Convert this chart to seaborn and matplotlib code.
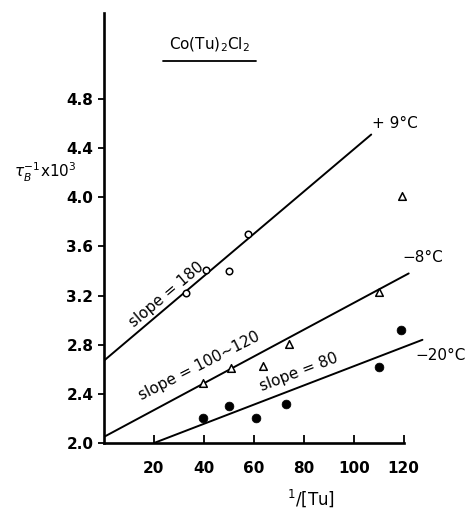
import matplotlib
matplotlib.use('Agg')
import matplotlib.pyplot as plt
import seaborn as sns

# data
x_p9 = [33, 41, 50, 57.5]
y_p9 = [3.22, 3.41, 3.40, 3.70]

x_m8 = [39.5, 51, 63.5, 74, 110, 119.5]
y_m8 = [2.49, 2.61, 2.63, 2.81, 3.23, 4.01]

x_m20 = [39.5, 50, 61, 73, 110, 119]
y_m20 = [2.20, 2.30, 2.20, 2.32, 2.62, 2.92]

# fitted line end points
fit_p9_x = [0, 107]
fit_p9_y = [2.67, 4.51]
fit_m8_x = [0, 122]
fit_m8_y = [2.05, 3.38]
fit_m20_x = [20, 127.5]
fit_m20_y = [2.00, 2.84]

x_ticks = [20, 40, 60, 80, 100, 120]
y_ticks = [2.0, 2.4, 2.8, 3.2, 3.6, 4.0, 4.4, 4.8]

sns.set_style("ticks")
plt.rcParams['font.family'] = ['DejaVu Sans']
plt.rcParams['text.color'] = 'black'
plt.rcParams['xtick.color'] = 'black'
plt.rcParams['ytick.color'] = 'black'
plt.rcParams['axes.edgecolor'] = 'black'

fig = plt.figure(figsize=(4.68, 5.14), dpi=100)
ax = fig.add_axes([0.222, 0.138, 0.694, 0.837])

for fx, fy in [(fit_p9_x, fit_p9_y), (fit_m8_x, fit_m8_y), (fit_m20_x, fit_m20_y)]:
    sns.lineplot(x=fx, y=fy, ax=ax, color='black', lw=1.4)

sns.scatterplot(x=x_p9, y=y_p9, ax=ax, marker='o', s=22, facecolor='white',
                edgecolor='black', linewidth=1.1, zorder=3)
sns.scatterplot(x=x_m8, y=y_m8, ax=ax, marker='^', s=30, facecolor='white',
                edgecolor='black', linewidth=1.1, zorder=3)
sns.scatterplot(x=x_m20, y=y_m20, ax=ax, marker='o', s=40, color='black',
                edgecolor='black', zorder=3)

ax.set_xlim(0, 130)
ax.set_ylim(2.0, 5.5)
ax.set_xticks(x_ticks)
ax.set_yticks(y_ticks)
ax.set_yticklabels([f"{v:.1f}" for v in y_ticks])
ax.tick_params(axis='x', direction='in', length=6, width=1.3, labelsize=11, pad=13)
ax.tick_params(axis='y', direction='out', length=4, width=1.3, labelsize=11)
for lab in ax.get_xticklabels() + ax.get_yticklabels():
    lab.set_fontweight('bold')
ax.spines['right'].set_visible(False)
ax.spines['top'].set_visible(False)
ax.spines['left'].set_linewidth(1.9)
ax.spines['bottom'].set_linewidth(1.9)
ax.spines['bottom'].set_bounds(0, 120)

# line labels
ax.text(107.5, 4.6, "+ 9°C", fontsize=11, ha='left', va='center')
ax.text(119.5, 3.51, "\u22128°C", fontsize=11, ha='left', va='center')
ax.text(124.5, 2.71, "\u221220°C", fontsize=11, ha='left', va='center')

ax.text(25, 3.21, "slope = 180", fontsize=11, rotation=40, ha='center', va='center')
ax.text(38, 2.63, "slope = 100~120", fontsize=11, rotation=27, ha='center', va='center')
ax.text(78, 2.58, "slope = 80", fontsize=11, rotation=21, ha='center', va='center')

# title with underline
fig.text(0.448, 0.912, r"Co(Tu)$_2$Cl$_2$", fontsize=11, ha='center', va='center')
fig.add_artist(plt.Line2D([0.348, 0.547], [0.881, 0.881], color='black', lw=1.3))

fig.text(0.03, 0.664, r"$\tau_B^{-1}$x10$^3$", fontsize=11, ha='left', va='center')
fig.text(0.665, 0.030, r"$^1$/[Tu]", fontsize=12, ha='center', va='center')

fig.savefig("out.png", dpi=100)
